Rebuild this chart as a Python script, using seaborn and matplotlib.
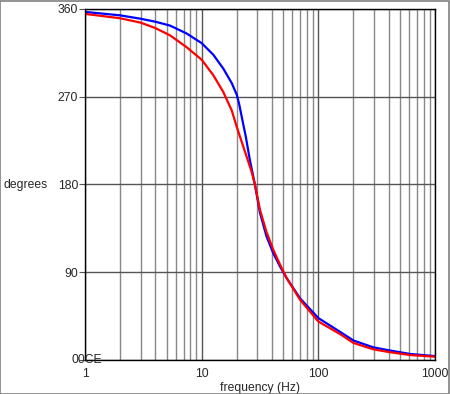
import matplotlib
matplotlib.use("Agg")
import matplotlib.pyplot as plt
import matplotlib.ticker as mticker
import pandas as pd
import seaborn as sns

# Valores
freq_blue = [1, 2, 3, 4, 5.35, 7.4, 10, 12.6, 15.3, 18.1, 20, 21, 22, 23.9, 25.9, 28.6, 31.6, 35.9,
             41.1, 46.9, 53.5, 70, 100, 153, 200, 295, 400, 610, 1000]
deg_blue = [357, 353.5, 350, 347, 343, 335, 325, 313, 299, 284, 272, 262, 250, 229, 205, 180, 151, 127,
            109.5, 96, 84, 63, 43, 29, 20, 13, 10, 6.2, 4]
freq_red = [1, 2, 3, 4, 5.35, 7.4, 10, 12.6, 15.3, 18.1, 20, 22, 24.3, 26.8, 28.6, 31.6, 35.9,
            41.1, 46.9, 53.5, 70, 100, 153, 200, 295, 400, 610, 1000]
deg_red = [355, 350.5, 346, 340.5, 333, 321, 308, 292, 275, 256, 239, 224, 208.5, 193, 180, 154, 131.5,
           113, 98, 84, 61.5, 39.5, 26.7, 17.5, 11, 8.2, 5.1, 3.4]

y_ticks = [0, 90, 180, 270, 360]
y_labels = ["", "90", "180", "270", "360"]
x_ticks = [1, 10, 100, 1000]
x_labels = ["1", "10", "100", "1000"]

sns.set_style("white")
plt.rcParams["font.family"] = ["Liberation Sans", "DejaVu Sans"]

df_blue = pd.DataFrame({"f": freq_blue, "deg": deg_blue})
df_red = pd.DataFrame({"f": freq_red, "deg": deg_red})

fig = plt.figure(figsize=(4.5, 3.94), dpi=100)
ax = fig.add_axes([85 / 450, 34 / 394, 350 / 450, 351 / 394])

sns.lineplot(data=df_blue, x="f", y="deg", color="#0000ff", linewidth=1.6, ax=ax)
sns.lineplot(data=df_red, x="f", y="deg", color="#ff0000", linewidth=1.6, ax=ax)

ax.set_xscale("log")
ax.set_xlim(1, 1000)
ax.set_ylim(0, 360)
ax.set_xticks(x_ticks)
ax.set_xticklabels(x_labels)
ax.xaxis.set_minor_locator(mticker.LogLocator(base=10, subs=range(2, 10)))
ax.xaxis.set_minor_formatter(mticker.NullFormatter())
ax.set_yticks(y_ticks)
ax.set_yticklabels(y_labels)

ax.grid(True, which="major", color="#555555", linewidth=1)
ax.grid(True, which="minor", axis="x", color="#888888", linewidth=1)
ax.set_axisbelow(True)

ax.tick_params(axis="both", which="major", labelsize=8.7, length=4, color="#555555",
               direction="out", bottom=False, left=True, pad=1)
ax.tick_params(axis="x", which="minor", length=0)
ax.tick_params(axis="x", which="major", pad=2)
for side in ["top", "bottom", "left", "right"]:
    ax.spines[side].set_color("black")
    ax.spines[side].set_linewidth(1)

# Etiqueta superpuesta en el origen
ax.text(1.03, 0, "00CE", ha="center", va="center", fontsize=8.7)

ax.set_xlabel("frequency (Hz)", fontsize=8.7, labelpad=1)
ax.set_ylabel("degrees", fontsize=8.7, rotation=0, labelpad=0)
ax.yaxis.set_label_coords(-0.171, 0.499)
ax.yaxis.label.set_verticalalignment("center")
ax.yaxis.label.set_horizontalalignment("center")

# Marco gris alrededor de la figura
fig.patches.append(plt.Rectangle((0.001, 0.001), 0.997, 0.997, transform=fig.transFigure,
                                 fill=False, edgecolor="#808080", linewidth=1.2))

fig.savefig("out.png", dpi=100)
